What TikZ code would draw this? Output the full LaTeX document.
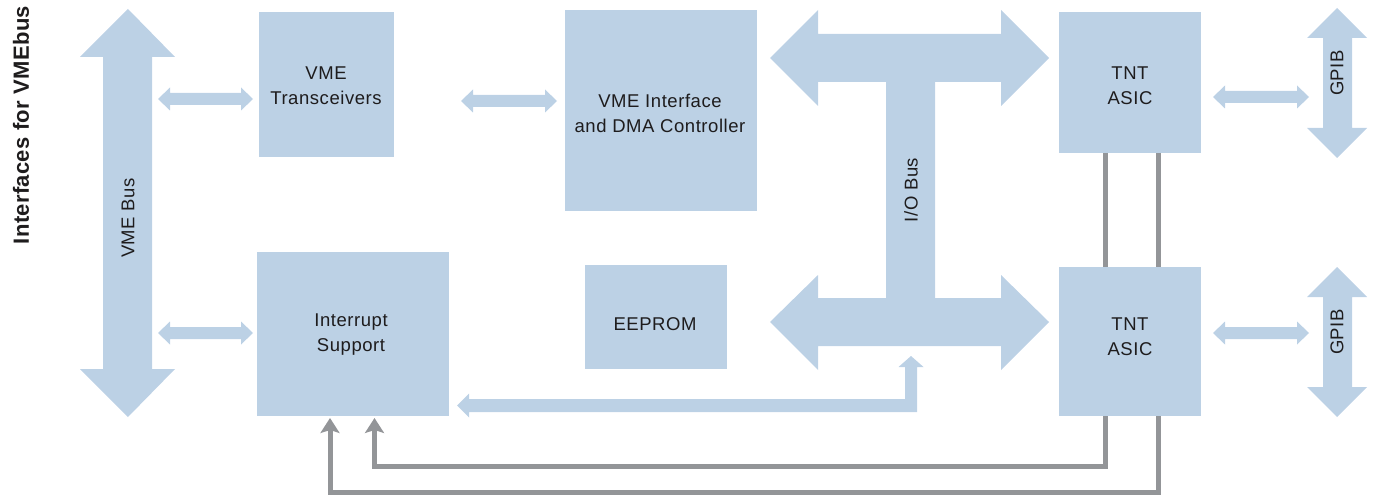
\documentclass[tikz,border=0pt]{standalone}
\usepackage{fontspec}
\setmainfont{Liberation Sans}
\usetikzlibrary{arrows.meta}
\definecolor{blk}{RGB}{188,209,229}
\definecolor{gry}{RGB}{147,149,152}
\definecolor{txt}{RGB}{30,28,29}
\newcommand\dblH[3]{% x1 x2 yc
  \fill[blk] (#1,#3) -- ++(12,-11.5) -- ++(0,5.5) -- (#2-12,#3-6) -- ++(0,-5.5) -- (#2,#3) -- (#2-12,#3+11.5) -- ++(0,-5.5) -- (#1+12,#3+6) -- ++(0,5.5) -- cycle;}
\begin{document}
\begin{tikzpicture}[x=1pt,y=-1pt,
  box/.style={fill=blk,draw=none,inner sep=0pt},
  lbl/.style={text=txt,align=center,font=\fontsize{18.5}{25}\selectfont\addfontfeature{LetterSpace=3}},
  gline/.style={draw=gry,line width=5pt},
  gtip/.style={-{Stealth[length=15pt,width=19pt,inset=3pt]}}]
\useasboundingbox (0,0) rectangle (1373,497);
% title
\node[rotate=90,text=txt,font=\fontsize{22}{25}\selectfont\bfseries\addfontfeature{LetterSpace=1.5}] (title) at (21,125) {Interfaces for VMEbus};
% boxes
\fill[box] (259,12) rectangle (394,157);
\fill[box] (565,10) rectangle (757,211);
\fill[box] (257,252) rectangle (449,416);
\fill[box] (585,265) rectangle (727,369);
\fill[box] (1059,12) rectangle (1201,153);
\fill[box] (1059,267) rectangle (1201,416);
\node[lbl] (trans) at (326,86) {VME\\Transceivers};
\node[lbl] (vmeif) at (660,113) {VME Interface\\and DMA Controller};
\node[lbl] (intr) at (351,335) {Interrupt\\Support};
\node[lbl] (eeprom) at (655,324) {EEPROM};
\node[lbl] (tnt1) at (1130,86) {TNT\\ASIC};
\node[lbl] (tnt2) at (1130,337) {TNT\\ASIC};
% VME bus
\fill[blk] (128,9) -- (175,57) -- (152,57) -- (152,369) -- (175,369) -- (128,417) -- (80,369) -- (103,369) -- (103,57) -- (80,57) -- cycle;
\node[lbl,rotate=90] (vmebus) at (128,218) {VME Bus};
% I/O bus
\fill[blk] (770,58) -- (818,10) -- (818,34) -- (1001,34) -- (1001,10) -- (1049,58) -- (1001,106) -- (1001,82) -- (935,82) -- (935,298) -- (1001,298) -- (1001,275) -- (1049,322) -- (1001,370) -- (1001,346) -- (818,346) -- (818,370) -- (770,322) -- (818,275) -- (818,298) -- (886,298) -- (886,82) -- (818,82) -- (818,106) -- cycle;
\node[lbl,rotate=90] (iobus) at (911,190) {I/O Bus};
% GPIB
\fill[blk] (1337,8) -- (1367,38) -- (1352,38) -- (1352,128) -- (1367,128) -- (1337,158) -- (1307,128) -- (1323,128) -- (1323,38) -- (1307,38) -- cycle;
\fill[blk] (1337,267) -- (1367,297) -- (1352,297) -- (1352,387) -- (1367,387) -- (1337,417) -- (1307,387) -- (1323,387) -- (1323,297) -- (1307,297) -- cycle;
\node[lbl,rotate=90] (gpib1) at (1337,73) {GPIB};
\node[lbl,rotate=90] (gpib2) at (1337,332) {GPIB};
% small double arrows
\dblH{158}{253}{99}
\dblH{158}{253}{333}
\dblH{461}{557}{101}
\dblH{1213}{1309}{97}
\dblH{1213}{1309}{333}
% interrupt -> I/O bus
\fill[blk] (457,405.5) -- (469,393.5) -- (469,399) -- (905,399) -- (905,367) -- (898.5,367) -- (911,356) -- (923.5,367) -- (917,367) -- (917,412) -- (469,412) -- (469,417.5) -- cycle;
% gray lines
\draw[gline] (1105,153) -- (1105,267);
\draw[gline] (1158.5,153) -- (1158.5,267);
\draw[gline,gtip] (1105,416) -- (1105,466.5) -- (374.5,466.5) -- (374.5,418);
\draw[gline,gtip] (1158.5,416) -- (1158.5,492.5) -- (330,492.5) -- (330,418);
\end{tikzpicture}
\end{document}
